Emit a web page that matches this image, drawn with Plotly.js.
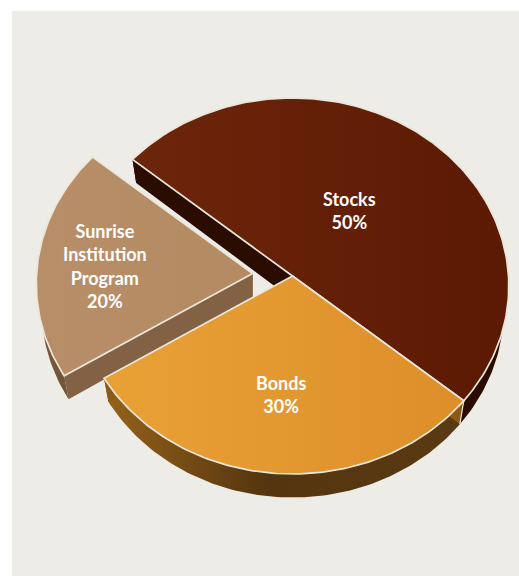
<!DOCTYPE html>
<html>
<head>
<meta charset="utf-8">
<script src="https://cdn.plot.ly/plotly-3.0.1.min.js"></script>
<style>html,body{margin:0;padding:0;background:#fff}#chart{width:519px;height:576px}</style>
</head>
<body>
<div id="chart"></div>
<script>
// Portfolio allocation
const categories = ['Stocks', 'Bonds', 'Sunrise<br>Institution<br>Program'];
const shares = [50, 30, 20];
const exploded = [0, 0, 0.185];

// Face, wall and inner-cut colours per slice
const faceStart = ['#6c260b', '#e9a136', '#b88e68'];
const faceEnd = ['#5c1903', '#dd8e29', '#b48a63'];
const wallScale = [
  [[0, '#2a0c00'], [1, '#2a0c00']],
  [[0, '#95621a'], [0.45, '#55350f'], [1, '#5a3a12']],
  [[0, '#7b5a3e'], [1, '#6b4c33']]
];
const cutColor = ['#2a0c00', '#8a5a16', '#836144'];
const labelRadius = [0.46, 0.62, 0.67];
const labelShiftX = [-6, -2, -4];
const labelShiftY = [1, 1.5, -1];

// Projection of the tilted disc onto the page
const cx = 292.5, cy = 276, rx = 216, ry = 187.5, persp = -0.053;
const depth = 23.5, floorScale = 0.977;
const firstAngle = -50;
const rimColor = '#e9e6da';

function project(deg, r, pull, low) {
  const t = deg * Math.PI / 180;
  const u = r * Math.sin(t), v = -r * Math.cos(t);
  const w = 1 + persp * v;
  let X = rx * u / w, Y = ry * v / w;
  if (low) { X *= floorScale; Y += depth; }
  return [cx + X + pull[0], cy + Y + pull[1]];
}

function arc(a0, a1, pull, low) {
  const n = Math.max(2, Math.ceil(Math.abs(a1 - a0)));
  const pts = [];
  for (let i = 0; i <= n; i++) pts.push(project(a0 + (a1 - a0) * i / n, 1, pull, low));
  return pts;
}

function poly(pts, fill, line) {
  const trace = {
    type: 'scatter', mode: 'lines', fill: 'toself', hoverinfo: 'skip', showlegend: false,
    x: pts.map(p => p[0]).concat(pts[0][0]),
    y: pts.map(p => p[1]).concat(pts[0][1]),
    line: line ? {color: line, width: 1.7} : {width: 0, color: 'rgba(0,0,0,0)'}
  };
  if (typeof fill === 'string') {
    trace.fillcolor = fill;
  } else {
    trace.fillgradient = {type: 'horizontal', colorscale: fill};
  }
  return trace;
}

function edge(a, b) {
  return {
    type: 'scatter', mode: 'lines', hoverinfo: 'skip', showlegend: false,
    x: [a[0], b[0]], y: [a[1], b[1]], line: {color: rimColor, width: 1.2}
  };
}

const total = shares.reduce((a, b) => a + b, 0);
const slices = [];
let angle = firstAngle;
shares.forEach((s, i) => {
  const a0 = angle, a1 = angle + 360 * s / total;
  angle = a1;
  const mid = (a0 + a1) / 2 * Math.PI / 180;
  const pull = [rx * Math.sin(mid) * exploded[i], -ry * Math.cos(mid) * exploded[i]];
  slices.push({i, a0, a1, pull, midDeg: (a0 + a1) / 2});
});

// Back to front: Stocks, then the pulled slice, then Bonds
const traces = [];
[0, 2, 1].forEach(k => {
  const s = slices[k];
  const apexTop = project(0, 0, s.pull, false);
  const apexLow = project(0, 0, s.pull, true);
  const top = arc(s.a0, s.a1, s.pull, false);
  const low = arc(s.a0, s.a1, s.pull, true);
  const last = top.length - 1;
  // outer wall
  traces.push(poly(top.concat(low.slice().reverse()), wallScale[k]));
  // cut faces along both radii
  traces.push(poly([top[0], apexTop, apexLow, low[0]], cutColor[k]));
  traces.push(poly([top[last], apexTop, apexLow, low[last]], cutColor[k]));
  // pale seam on the front corner of the slice
  if (k === 1) traces.push(edge(top[0], low[0]));
  if (k === 2) traces.push(edge(top[last], low[last]));
  // top face with its pale rim
  traces.push(poly([apexTop].concat(top), [[0, faceStart[k]], [1, faceEnd[k]]], rimColor));
});

const annotations = slices.map(s => {
  const p = project(s.midDeg, labelRadius[s.i], s.pull, false);
  return {
    x: p[0], y: p[1], xref: 'x', yref: 'y', showarrow: false,
    xshift: labelShiftX[s.i], yshift: labelShiftY[s.i],
    text: categories[s.i] + '<br>' + shares[s.i] + '%',
    align: 'center',
    font: {family: 'Lato, sans-serif', size: 18, color: '#ffffff', weight: 700}
  };
});

const layout = {
  width: 519, height: 576,
  margin: {l: 0, r: 0, t: 0, b: 0, pad: 0},
  paper_bgcolor: '#ffffff', plot_bgcolor: 'rgba(0,0,0,0)',
  showlegend: false,
  xaxis: {range: [0, 519], visible: false, fixedrange: true},
  yaxis: {range: [576, 0], visible: false, fixedrange: true},
  shapes: [{type: 'rect', layer: 'below', xref: 'x', yref: 'y', x0: 12, x1: 519, y0: 11, y1: 576, fillcolor: '#eeece7', line: {width: 0}}],
  annotations
};

Plotly.newPlot('chart', traces, layout, {displayModeBar: false, staticPlot: true});
</script>
</body>
</html>
